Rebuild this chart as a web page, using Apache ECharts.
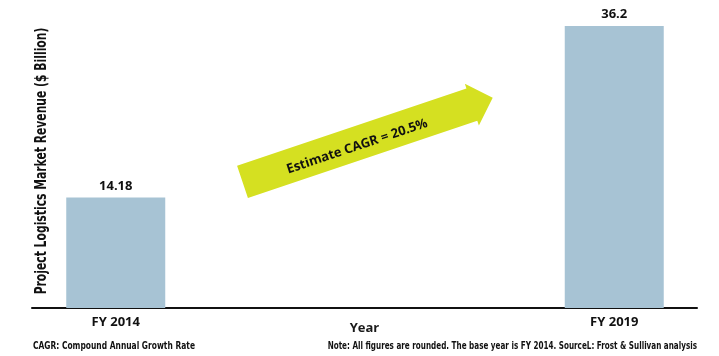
<!DOCTYPE html>
<html>
<head>
<meta charset="utf-8">
<script src="https://cdn.jsdelivr.net/npm/echarts@6/dist/echarts.min.js"></script>
<style>
  html, body { margin: 0; padding: 0; background: #ffffff; }
  #chart { width: 719px; height: 356px; }
</style>
</head>
<body>
<div id="chart"></div>
<script>
// Fiscal years shown on the horizontal axis and revenue in $ billion
const years = [2014, 2019];
const revenue = [14.18, 36.2];
const yearLabels = ['FY 2014', 'FY 2019'];

const yAxisTitle = 'Project Logistics Market Revenue ($ Billion)';
const xAxisTitle = 'Year';
const cagrText = 'Estimate CAGR = 20.5%';
const footLeft = 'CAGR: Compound Annual Growth Rate';
const footRight = 'Note: All figures are rounded. The base year is FY 2014. SourceL: Frost & Sullivan analysis';

const narrow = "'DejaVu Sans Condensed', 'Liberation Sans', sans-serif";
const regular = "'Open Sans', 'Liberation Sans', sans-serif";

const chart = echarts.init(document.getElementById('chart'), null, { renderer: 'canvas' });

const barData = years.map((y, i) => [y, revenue[i]]);

// Growth arrow drawn in its own rotated frame
const arrowLen = 264, shaftHalf = 17, headHalf = 22, headLen = 22;
const arrowAngle = 18.6 * Math.PI / 180;

chart.setOption({
  animation: false,
  backgroundColor: '#ffffff',
  grid: { left: 32, right: 22, top: 26, bottom: 48, containLabel: false },
  xAxis: {
    type: 'value',
    min: 2013.16,
    max: 2019.83,
    axisLine: { show: true, lineStyle: { color: '#111111', width: 2 } },
    axisTick: { show: false },
    splitLine: { show: false },
    axisLabel: {
      customValues: years,
      formatter: v => yearLabels[years.indexOf(v)] || '',
      margin: 8,
      fontFamily: regular,
      fontSize: 13,
      fontWeight: 'bold',
      color: '#111111'
    }
  },
  yAxis: {
    type: 'value',
    min: 0,
    max: 36.2,
    axisLine: { show: false },
    axisTick: { show: false },
    axisLabel: { show: false },
    splitLine: { show: false }
  },
  series: [{
    type: 'bar',
    data: barData,
    barWidth: 99,
    itemStyle: { color: '#a7c3d4' },
    label: {
      show: true,
      position: 'top',
      distance: 5,
      fontFamily: regular,
      fontSize: 13,
      fontWeight: 'bold',
      color: '#111111',
      formatter: p => String(p.value[1])
    }
  }],
  graphic: [
    {
      type: 'group',
      x: 242.5,
      y: 181.9,
      rotation: arrowAngle,
      children: [
        {
          type: 'polygon',
          shape: {
            points: [
              [0, -shaftHalf],
              [arrowLen - headLen, -shaftHalf],
              [arrowLen - headLen, -headHalf],
              [arrowLen, 0],
              [arrowLen - headLen, headHalf],
              [arrowLen - headLen, shaftHalf],
              [0, shaftHalf]
            ]
          },
          style: { fill: '#d5e021' }
        },
        {
          type: 'text',
          x: 120,
          y: 3,
          style: {
            text: cagrText,
            fontFamily: regular,
            fontSize: 13,
            fontWeight: 'bold',
            fill: '#111111',
            align: 'center',
            verticalAlign: 'middle'
          }
        }
      ]
    },
    {
      // vertical axis title
      type: 'text',
      x: 42,
      y: 161,
      rotation: Math.PI / 2,
      scaleX: 0.8,
      style: {
        text: yAxisTitle,
        fontFamily: narrow,
        fontSize: 15,
        fontWeight: 'bold',
        fill: '#111111',
        align: 'center',
        verticalAlign: 'middle'
      }
    },
    {
      // horizontal axis title
      type: 'text',
      x: 364.5,
      y: 328,
      style: {
        text: xAxisTitle,
        fontFamily: regular,
        fontSize: 13,
        fontWeight: 'bold',
        fill: '#1a1a1a',
        align: 'center',
        verticalAlign: 'middle'
      }
    },
    {
      type: 'text',
      x: 33,
      y: 346,
      scaleX: 0.76,
      style: {
        text: footLeft, fontFamily: narrow, fontSize: 11, fontWeight: 'bold', fill: '#111111',
        align: 'left', verticalAlign: 'middle'
      }
    },
    {
      type: 'text',
      x: 697,
      y: 346,
      scaleX: 0.73,
      style: {
        text: footRight, fontFamily: narrow, fontSize: 11, fontWeight: 'bold', fill: '#111111',
        align: 'right', verticalAlign: 'middle'
      }
    }
  ]
});
</script>
</body>
</html>
